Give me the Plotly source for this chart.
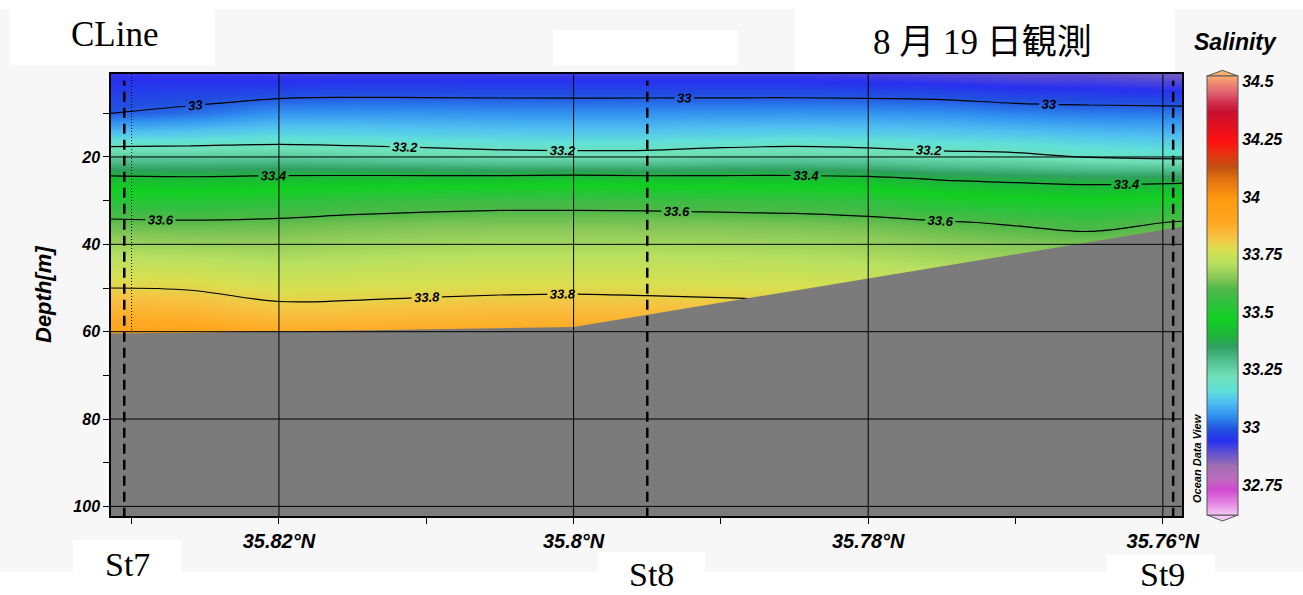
import plotly.graph_objects as go

# ---- section data: CLine, salinity along latitude vs depth ----
grid_lat = [35.8314, 35.826, 35.82, 35.815, 35.81, 35.805, 35.80, 35.795,
            35.79, 35.785, 35.78, 35.775, 35.77, 35.765, 35.7587]
grid_depth = [1, 5, 10, 15, 20, 25, 30, 35, 40, 45, 50, 55, 60, 65]

sal_d1 = [32.93, 32.93, 32.92, 32.92, 32.92, 32.92, 32.92, 32.92, 32.92, 32.92, 32.91, 32.90, 32.89, 32.89, 32.87]
sal_d5 = [32.961, 32.964, 32.973, 32.978, 32.978, 32.977, 32.977, 32.977, 32.977, 32.977, 32.974, 32.969, 32.955, 32.951, 32.942]
sal_d10 = [33.000, 33.019, 33.056, 33.059, 33.057, 33.054, 33.053, 33.054, 33.056, 33.057, 33.056, 33.052, 33.038, 33.030, 33.028]
sal_d15 = [33.125, 33.135, 33.148, 33.144, 33.138, 33.133, 33.131, 33.132, 33.138, 33.141, 33.138, 33.132, 33.124, 33.113, 33.106]
sal_d20 = [33.267, 33.268, 33.271, 33.260, 33.246, 33.233, 33.228, 33.230, 33.246, 33.255, 33.244, 33.227, 33.219, 33.197, 33.184]
sal_d25 = [33.420, 33.414, 33.422, 33.425, 33.427, 33.428, 33.435, 33.428, 33.427, 33.426, 33.419, 33.393, 33.381, 33.371, 33.374]
sal_d30 = [33.522, 33.515, 33.529, 33.550, 33.562, 33.569, 33.570, 33.567, 33.562, 33.556, 33.540, 33.505, 33.490, 33.480, 33.500]
sal_d35 = [33.615, 33.610, 33.617, 33.628, 33.634, 33.638, 33.638, 33.637, 33.634, 33.631, 33.623, 33.607, 33.592, 33.575, 33.606]
sal_d40 = [33.677, 33.671, 33.667, 33.675, 33.682, 33.686, 33.687, 33.685, 33.682, 33.678, 33.670, 33.655, 33.645, 33.636, 33.654]
sal_d45 = [33.738, 33.733, 33.716, 33.723, 33.730, 33.734, 33.736, 33.733, 33.729, 33.725, 33.716, 33.703, 33.693, 33.684, 33.700]
sal_d50 = [33.800, 33.794, 33.766, 33.770, 33.777, 33.783, 33.785, 33.781, 33.776, 33.772, 33.763, 33.752, 33.742, 33.732, 33.750]
sal_d55 = [33.860, 33.853, 33.821, 33.823, 33.831, 33.836, 33.839, 33.835, 33.830, 33.820, 33.810, 33.800, 33.790, 33.780, 33.800]
sal_d60 = [33.920, 33.911, 33.885, 33.886, 33.890, 33.893, 33.894, 33.890, 33.890, 33.880, 33.870, 33.860, 33.850, 33.840, 33.860]
sal_d65 = [33.980, 33.970, 33.950, 33.950, 33.950, 33.950, 33.950, 33.950, 33.950, 33.940, 33.930, 33.920, 33.910, 33.900, 33.920]

salinity = [sal_d1, sal_d5, sal_d10, sal_d15, sal_d20, sal_d25, sal_d30,
            sal_d35, sal_d40, sal_d45, sal_d50, sal_d55, sal_d60, sal_d65]

# sea floor along the section
bottom_lat = [35.8314, 35.825, 35.815, 35.80, 35.7587]
bottom_depth = [60.4, 60.2, 59.7, 58.9, 36.0]

# stations
station_names = ["St7", "St8", "St9"]
station_lat = [35.8305, 35.7950, 35.7593]
sample_lat = 35.8300
sample_max_depth = 59.6

# axes
lat_range = [35.8314, 35.7587]
depth_range = [102.2, 1.0]
lat_ticks = [35.82, 35.80, 35.78, 35.76]
lat_ticktext = ["35.82°N", "35.8°N", "35.78°N", "35.76°N"]
depth_grid_ticks = [20, 40, 60, 80, 100]
contour_levels = (33.0, 33.8, 0.2)
# the isolines are labelled piecewise along the section (column index spans)
label_spans = [(0, 5), (5, 10), (10, 14)]

cb_min, cb_max = 32.62, 34.525
cb_ticks = [32.75, 33.0, 33.25, 33.5, 33.75, 34.0, 34.25, 34.5]
cb_ticktext = ["32.75", "33", "33.25", "33.5", "33.75", "34", "34.25", "34.5"]

# ODV-style palette (value, colour)
odv_stops = [
    (32.62, "#f4c8f4"), (32.67, "#e488e4"), (32.73, "#d048d0"), (32.77, "#c068c0"),
    (32.83, "#a070b0"), (32.89, "#6050d0"), (32.94, "#2830f0"), (32.99, "#2050e0"),
    (33.05, "#3090f0"), (33.11, "#50c0f0"), (33.16, "#60e0d8"), (33.22, "#70e0b8"),
    (33.29, "#50c090"), (33.35, "#30a060"), (33.39, "#20b040"), (33.47, "#10d020"),
    (33.54, "#30c040"), (33.60, "#50b848"), (33.65, "#88c858"), (33.71, "#b8e060"),
    (33.77, "#d8e050"), (33.83, "#f8c040"), (33.89, "#ffa820"), (33.99, "#ff9a10"),
    (34.08, "#e07010"), (34.13, "#c05010"), (34.19, "#e83010"), (34.24, "#ff1010"),
    (34.31, "#e01020"), (34.37, "#c81030"), (34.41, "#d03050"), (34.45, "#e06070"),
    (34.50, "#f09070"), (34.525, "#f8b070"),
]
colorscale = [[(v - cb_min) / (cb_max - cb_min), c] for v, c in odv_stops]
colorscale[0][0] = 0.0
colorscale[-1][0] = 1.0

# ---- page geometry (pixels) ----
W, H = 1303, 595
ML, MR, MT, MB = 111, 121, 74, 79
PW, PH = W - ML - MR, H - MT - MB


def px_x(px):
    return (px - ML) / PW


def px_y(py):
    return (H - MB - py) / PH


sans = "Liberation Sans, Arial, sans-serif"
serif = "Liberation Serif, Noto Sans CJK JP, serif"
GRAY = "#7b7b7b"

fig = go.Figure()

fig.add_trace(go.Heatmap(
    x=grid_lat, y=grid_depth, z=salinity,
    zsmooth="best", colorscale=colorscale, zmin=cb_min, zmax=cb_max,
    hoverinfo="skip",
    colorbar=dict(
        thickness=31, thicknessmode="pixels", len=439, lenmode="pixels",
        x=px_x(1207), xanchor="left", xpad=0,
        y=px_y(76), yanchor="top", ypad=0,
        tickmode="array", tickvals=cb_ticks, ticktext=cb_ticktext,
        ticks="", ticklen=2,
        tickfont=dict(family=sans, size=16, color="black", weight="bold", style="italic"),
        outlinecolor="#555555", outlinewidth=1, borderwidth=0,
    ),
))

for i0, i1 in label_spans:
    fig.add_trace(go.Contour(
        x=grid_lat[i0:i1 + 1], y=grid_depth, z=[row[i0:i1 + 1] for row in salinity],
        autocontour=False,
        contours=dict(start=contour_levels[0], end=contour_levels[1], size=contour_levels[2],
                      coloring="none", showlabels=True, labelformat=".3~g",
                      labelfont=dict(family=sans, size=13, color="black",
                                     weight="bold", style="italic")),
        line=dict(color="black", width=1.2),
        showscale=False, hoverinfo="skip",
    ))

# sea floor
fig.add_trace(go.Scatter(
    x=bottom_lat + [bottom_lat[-1], bottom_lat[0]],
    y=bottom_depth + [110, 110],
    fill="toself", fillcolor=GRAY, mode="lines", line=dict(width=0, color=GRAY),
    hoverinfo="skip", showlegend=False,
))

shapes = []
# white label panels
for x0, y0, x1, y1 in [(0, 0, W, 9), (10, 9, 215, 65), (553, 30, 738, 65), (795, 9, 1175, 72),
                       (0, 572, W, H), (73, 540, 181, 572), (598, 552, 705, 572),
                       (1107, 555, 1215, 572)]:
    shapes.append(dict(type="rect", xref="paper", yref="paper", layer="below",
                       x0=px_x(x0), x1=px_x(x1), y0=px_y(y1), y1=px_y(y0),
                       fillcolor="white", line=dict(width=0)))
# grid above the section
for lt in lat_ticks:
    shapes.append(dict(type="line", xref="x", yref="paper", x0=lt, x1=lt, y0=0, y1=1,
                       line=dict(color="black", width=1)))
for d in depth_grid_ticks:
    shapes.append(dict(type="line", xref="paper", yref="y", x0=0, x1=1, y0=d, y1=d,
                       line=dict(color="black", width=1)))
# station positions
for lt in station_lat:
    shapes.append(dict(type="line", xref="x", yref="paper", x0=lt, x1=lt, y0=-0.004, y1=0.985,
                       line=dict(color="black", width=2.5, dash="10px,6px")))
shapes.append(dict(type="line", xref="x", yref="y", x0=sample_lat, x1=sample_lat,
                   y0=depth_range[1], y1=sample_max_depth,
                   line=dict(color="black", width=1, dash="1px,2px")))
# colour bar end caps
shapes.append(dict(type="path", xref="paper", yref="paper",
                   path=f"M {px_x(1207)},{px_y(76)} L {px_x(1222.5)},{px_y(70.3)} L {px_x(1238)},{px_y(76)} Z",
                   fillcolor="#f8b070", line=dict(color="#555555", width=1)))
shapes.append(dict(type="path", xref="paper", yref="paper",
                   path=f"M {px_x(1207)},{px_y(515)} L {px_x(1222.5)},{px_y(521)} L {px_x(1238)},{px_y(515)} Z",
                   fillcolor="#f4c8f4", line=dict(color="#555555", width=1)))

annotations = [
    dict(text="CLine", x=px_x(114), y=px_y(34), font=dict(family=serif, size=35, color="black")),
    dict(text="8 月 19 日観測", x=px_x(982), y=px_y(42), font=dict(family=serif, size=35, color="black")),
    dict(text="Salinity", x=px_x(1235), y=px_y(42),
         font=dict(family=sans, size=23, color="black", weight="bold", style="italic")),
    dict(text="Ocean Data View", x=px_x(1197), y=px_y(458), textangle=-90,
         font=dict(family=sans, size=11, color="black", weight="bold", style="italic")),
    dict(text="Depth[m]", x=px_x(43), y=px_y(295), textangle=-90,
         font=dict(family=sans, size=22, color="black", weight="bold", style="italic")),
]
for name, cx, cy in zip(station_names, [127, 651, 1162], [564, 574, 574]):
    annotations.append(dict(text=name, x=px_x(cx), y=px_y(cy),
                            font=dict(family=serif, size=34, color="black")))
for a in annotations:
    a.update(xref="paper", yref="paper", xanchor="center", yanchor="middle", showarrow=False)

tickfont_x = dict(family=sans, size=20, color="black", weight="bold", style="italic")
tickfont_y = dict(family=sans, size=16, color="black", weight="bold", style="italic")

fig.update_layout(
    width=W, height=H,
    margin=dict(l=ML, r=MR, t=MT, b=MB, pad=0),
    paper_bgcolor="#f7f7f7", plot_bgcolor=GRAY,
    showlegend=False,
    shapes=shapes, annotations=annotations,
    xaxis=dict(range=lat_range, tickmode="array", tickvals=lat_ticks, ticktext=lat_ticktext,
               ticks="outside", ticklen=6, tickwidth=1, tickcolor="black",
               minor=dict(tickmode="linear", tick0=35.76, dtick=0.01, ticks="outside",
                          ticklen=6, tickwidth=1, tickcolor="black", showgrid=False),
               showgrid=False, zeroline=False, showline=True, linecolor="black",
               linewidth=1.5, mirror=True, tickfont=tickfont_x),
    yaxis=dict(range=depth_range, tickmode="linear", tick0=0, dtick=20,
               ticks="outside", ticklen=6, tickwidth=1, tickcolor="black",
               minor=dict(tickmode="linear", tick0=0, dtick=10, ticks="outside",
                          ticklen=6, tickwidth=1, tickcolor="black", showgrid=False),
               showgrid=False, zeroline=False, showline=True, linecolor="black",
               linewidth=1.5, mirror=True, tickfont=tickfont_y),
)

fig.write_html("out.html")
